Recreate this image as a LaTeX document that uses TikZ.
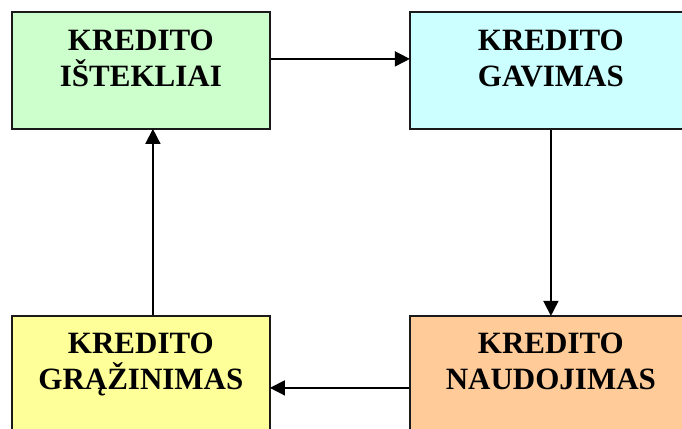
\documentclass[tikz,border=0pt]{standalone}
\usepackage{fontspec}
\setmainfont{Liberation Serif}
\usetikzlibrary{arrows.meta}
\definecolor{cgreen}{HTML}{CCFFCC}
\definecolor{ccyan}{HTML}{CCFFFF}
\definecolor{cyellow}{HTML}{FFFF99}
\definecolor{corange}{HTML}{FFCC99}
\definecolor{cborder}{HTML}{1A1A1A}
\tikzset{
  box/.style={draw=cborder, line width=1.8pt, minimum width=258pt, minimum height=117pt, inner sep=0pt, anchor=north west},
  widebox/.style={box, minimum width=282pt},
  lbl/.style={align=center, inner sep=0pt, anchor=north, font=\fontsize{31}{35.5}\selectfont\bfseries},
  arr/.style={line width=1.6pt, -{Triangle[length=15pt,width=15pt]}, shorten >=-0.9pt}
}
\begin{document}
\begin{tikzpicture}[x=1pt,y=1pt]
\useasboundingbox (0,0) rectangle (682,-428);
\clip (0,0) rectangle (682,-428);
\node[box, fill=cgreen] (res) at (11,-11) {};
\node[widebox, fill=ccyan] (get) at (409,-11) {};
\node[box, fill=cyellow] (ret) at (11,-315) {};
\node[widebox, fill=corange] (use) at (409,-315) {};
\node[lbl] (resT) at ([yshift=-19pt]res.north) {KREDITO\\IŠTEKLIAI};
\node[lbl] (getT) at ([yshift=-19pt]get.north) {KREDITO\\GAVIMAS};
\node[lbl] (retT) at ([yshift=-18pt]ret.north) {KREDITO\\GRĄŽINIMAS};
\node[lbl] (useT) at ([yshift=-18pt]use.north) {KREDITO\\NAUDOJIMAS};
\draw[arr] ([yshift=11.5pt]res.east) -- ([yshift=11.5pt]get.west);
\draw[arr] (get.south) -- (use.north);
\draw[arr] ([yshift=-13.5pt]use.west) -- ([yshift=-13.5pt]ret.east);
\draw[arr] ([xshift=12pt]ret.north) -- ([xshift=12pt]res.south);
\end{tikzpicture}
\end{document}
